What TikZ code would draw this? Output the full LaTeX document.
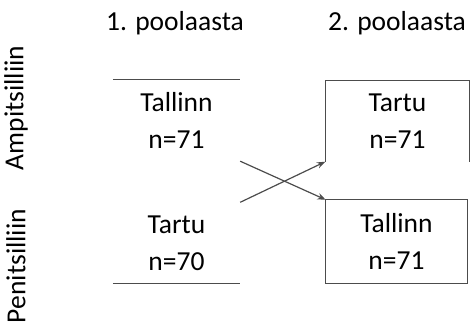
\documentclass[tikz,border=0pt]{standalone}
\usepackage{fontspec}
\setmainfont{Carlito}
\usetikzlibrary{arrows.meta, positioning, calc}

\begin{document}
\begin{tikzpicture}[x=1pt, y=-1pt, >=Stealth,
    lbl/.style={font=\fontsize{27.5}{37}\selectfont, align=center, text=black},
    cell/.style={lbl, minimum width=127pt, minimum height=81pt, inner sep=0pt},
    rim/.style={draw=black!70, line width=1.3pt}]
        \useasboundingbox (0,0) rectangle (470,323);
        % Headings
        \node[lbl] (h1) at (175,23) {1. poolaasta};
        \node[lbl] (h2) at (397,23) {2. poolaasta};
        % Side labels
        \node[lbl, rotate=90] (amp) at (16,108) {Ampitsilliin};
        \node[lbl, rotate=90] (pen) at (16,266) {Penitsilliin};
        % First half
        \node[cell] (t1) at (176.5,120.5) {Tallinn\\n=71};
        \node[cell] (t2) at (176.5,243) {Tartu\\n=70};
        \draw [rim] (t1.north west) -- (t1.north east);
        \draw [rim] (t2.south west) -- (t2.south east);
        % Second half
        \node[cell, minimum width=144pt] (r1) at (397.5,121) {Tartu\\n=71};
        \node[cell, minimum width=141pt, minimum height=83pt] (r2) at (396.5,241.5) {Tallinn\\n=71};
        \draw [rim] (r1.south west) -- (r1.north west) -- (r1.north east) -- (r1.south east);
        \draw [rim] (r2.north west) rectangle (r2.south east);
        % Crossover
        \draw [->, black!70, line width=1.2pt] (t1.south east) -- (r2.north west);
        \draw [->, black!70, line width=1.2pt] (t2.north east) -- (r1.south west);
    \end{tikzpicture}
\end{document}
